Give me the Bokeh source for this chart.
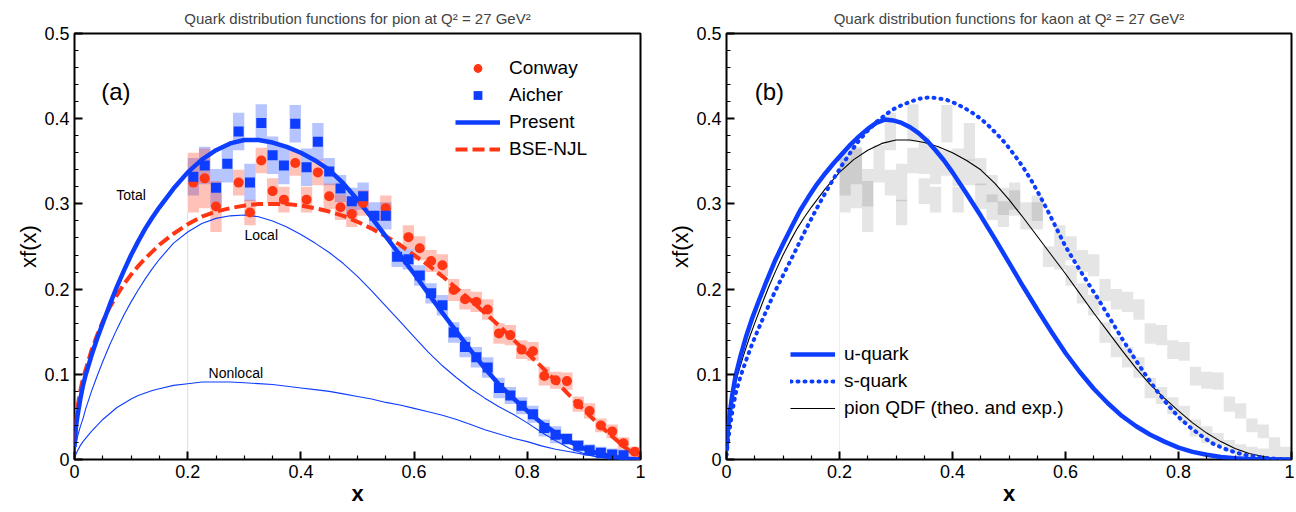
from bokeh.plotting import figure
from bokeh.layouts import row
from bokeh.models import ColumnDataSource, Legend, LegendItem, FixedTicker, Label
from bokeh.embed import file_html
from bokeh.resources import INLINE

FONT = "Liberation Sans"
BLUE = "#0d3dff"
RED = "#ff3514"

# ---------------- data ----------------
titles = ["Quark distribution functions for pion at Q\u00b2 = 27 GeV\u00b2",
          "Quark distribution functions for kaon at Q\u00b2 = 27 GeV\u00b2"]
x_ticks = [0, 0.2, 0.4, 0.6, 0.8, 1.0]
x_tick_labels = ["0", "0.2", "0.4", "0.6", "0.8", "1"]
x_minor = [0.05, 0.1, 0.15, 0.25, 0.3, 0.35, 0.45, 0.5, 0.55, 0.65, 0.7, 0.75, 0.85, 0.9, 0.95]
y_ticks = [0, 0.1, 0.2, 0.3, 0.4, 0.5]
y_tick_labels = ["0", "0.1", "0.2", "0.3", "0.4", "0.5"]
y_minor = [0.02, 0.04, 0.06, 0.08, 0.12, 0.14, 0.16, 0.18, 0.22, 0.24, 0.26, 0.28,
           0.32, 0.34, 0.36, 0.38, 0.42, 0.44, 0.46, 0.48]

# Conway (pion data)
conway_x = [0.21, 0.23, 0.25, 0.29, 0.31, 0.33, 0.35, 0.37, 0.39, 0.41, 0.43, 0.45, 0.47, 0.49,
            0.51, 0.55, 0.59, 0.61, 0.63, 0.65, 0.67, 0.69, 0.71, 0.73, 0.75, 0.77, 0.79, 0.81,
            0.83, 0.85, 0.87, 0.89, 0.91, 0.93, 0.95, 0.97, 0.99]
conway_y = [0.325, 0.330, 0.297, 0.325, 0.290, 0.351, 0.315, 0.305, 0.348, 0.305, 0.337, 0.309,
            0.296, 0.288, 0.301, 0.295, 0.261, 0.248, 0.233, 0.228, 0.199, 0.188, 0.185, 0.176,
            0.148, 0.146, 0.129, 0.127, 0.098, 0.093, 0.092, 0.065, 0.057, 0.040, 0.033, 0.019,
            0.009]
conway_err = [0.035, 0.035, 0.03, 0.015, 0.015, 0.015, 0.015, 0.015, 0.015, 0.015, 0.015, 0.015,
              0.015, 0.015, 0.015, 0.015, 0.014, 0.014, 0.013, 0.013, 0.013, 0.012, 0.012, 0.012,
              0.012, 0.012, 0.011, 0.011, 0.011, 0.010, 0.010, 0.009, 0.009, 0.008, 0.008, 0.007,
              0.006]

# Aicher (pion data)
aicher_x = [0.21, 0.23, 0.25, 0.27, 0.29, 0.31, 0.33, 0.35, 0.37, 0.39, 0.41, 0.43, 0.45, 0.47,
            0.49, 0.51, 0.53, 0.55, 0.57, 0.59, 0.61, 0.63, 0.65, 0.67, 0.69, 0.71, 0.73, 0.75,
            0.77, 0.79, 0.81, 0.83, 0.85, 0.87, 0.89, 0.91, 0.93, 0.95, 0.97]
aicher_y = [0.332, 0.345, 0.319, 0.347, 0.385, 0.325, 0.395, 0.357, 0.345, 0.394, 0.343, 0.373,
            0.338, 0.318, 0.303, 0.309, 0.286, 0.286, 0.238, 0.235, 0.216, 0.195, 0.181, 0.149,
            0.132, 0.120, 0.108, 0.084, 0.075, 0.063, 0.053, 0.037, 0.029, 0.024, 0.016, 0.011,
            0.008, 0.006, 0.005]
aicher_err = [0.022] * 12 + [0.016] * 6 + [0.012] * 10 + [0.010] * 5 + [0.007] * 6

# common x grid (read positions) for the pion curves of panel (a)
grid_x = [0, 0.0025, 0.005, 0.01, 0.015, 0.02, 0.03, 0.04, 0.05, 0.0625, 0.075, 0.0875, 0.1,
          0.1125, 0.125, 0.1375, 0.15, 0.175, 0.2, 0.225, 0.25, 0.275, 0.3, 0.325, 0.35, 0.375,
          0.4, 0.425, 0.45, 0.475, 0.5, 0.525, 0.55, 0.575, 0.6, 0.625, 0.65, 0.675, 0.7, 0.725,
          0.75, 0.775, 0.8, 0.825, 0.85, 0.875, 0.9, 0.925, 0.95, 0.975, 1.0]
# Present (total) -- also the pion QDF of panel (b)
present_y = [0.015, 0.038, 0.05, 0.07, 0.087, 0.10, 0.122, 0.142, 0.16, 0.182, 0.203, 0.222,
             0.24, 0.256, 0.271, 0.284, 0.296, 0.318, 0.337, 0.352, 0.363, 0.371, 0.375, 0.375,
             0.372, 0.367, 0.36, 0.351, 0.34, 0.324, 0.305, 0.284, 0.262, 0.240, 0.218, 0.195,
             0.172, 0.150, 0.128, 0.107, 0.088, 0.072, 0.057, 0.043, 0.031, 0.021, 0.013, 0.007,
             0.0035, 0.001, 0.0]
# BSE-NJL
bse_y = [0.02, 0.045, 0.06, 0.08, 0.095, 0.106, 0.128, 0.146, 0.162, 0.179, 0.193, 0.206, 0.217,
         0.227, 0.236, 0.244, 0.252, 0.265, 0.276, 0.285, 0.291, 0.295, 0.298, 0.3, 0.3, 0.3,
         0.298, 0.295, 0.291, 0.286, 0.279, 0.271, 0.262, 0.252, 0.240, 0.228, 0.215, 0.201,
         0.187, 0.172, 0.157, 0.141, 0.125, 0.109, 0.092, 0.075, 0.058, 0.042, 0.027, 0.013, 0.0]
# Local
local_y = [0.0, 0.018, 0.026, 0.038, 0.048, 0.06, 0.08, 0.098, 0.115, 0.135, 0.153, 0.17, 0.185,
           0.199, 0.212, 0.224, 0.235, 0.254, 0.267, 0.277, 0.283, 0.286, 0.287, 0.285, 0.28,
           0.273, 0.264, 0.254, 0.243, 0.23, 0.215, 0.198, 0.18, 0.162, 0.144, 0.126, 0.11, 0.096,
           0.083, 0.072, 0.062, 0.053, 0.043, 0.032, 0.022, 0.013, 0.007, 0.003, 0.001, 0.0, 0.0]
# Nonlocal
nonlocal_y = [0.0, 0.006, 0.01, 0.016, 0.021, 0.025, 0.033, 0.04, 0.047, 0.054, 0.061, 0.066,
              0.071, 0.075, 0.078, 0.081, 0.083, 0.087, 0.089, 0.091, 0.091, 0.091, 0.09, 0.089,
              0.088, 0.086, 0.084, 0.082, 0.08, 0.077, 0.074, 0.071, 0.067, 0.064, 0.06, 0.056,
              0.052, 0.047, 0.041, 0.035, 0.030, 0.025, 0.021, 0.016, 0.012, 0.009, 0.006, 0.003,
              0.0015, 0.0005, 0.0]

# kaon u-quark
u_x = [0, 0.0025, 0.005, 0.01, 0.016, 0.025, 0.035, 0.045, 0.057, 0.07, 0.085, 0.1, 0.116, 0.13,
       0.145, 0.16, 0.175, 0.19, 0.205, 0.22, 0.234, 0.25, 0.265, 0.28, 0.295, 0.31, 0.325, 0.34,
       0.355, 0.37, 0.385, 0.4, 0.425, 0.45, 0.475, 0.5, 0.525, 0.55, 0.575, 0.6, 0.625, 0.65,
       0.675, 0.7, 0.725, 0.75, 0.775, 0.8, 0.825, 0.85, 0.875, 0.9, 0.925, 0.95, 1.0]
u_y = [0.01, 0.035, 0.05, 0.075, 0.098, 0.122, 0.145, 0.165, 0.186, 0.208, 0.232, 0.253, 0.274,
       0.292, 0.308, 0.323, 0.336, 0.348, 0.359, 0.370, 0.379, 0.388, 0.395, 0.399, 0.398, 0.395,
       0.390, 0.383, 0.374, 0.363, 0.351, 0.337, 0.312, 0.286, 0.259, 0.231, 0.203, 0.176, 0.150,
       0.125, 0.103, 0.083, 0.066, 0.051, 0.039, 0.029, 0.021, 0.014, 0.009, 0.0055, 0.003,
       0.0015, 0.0007, 0.0003, 0.0]
# kaon s-quark
s_x = [0, 0.0025, 0.005, 0.01, 0.016, 0.025, 0.035, 0.045, 0.057, 0.07, 0.085, 0.1, 0.116, 0.13,
       0.145, 0.16, 0.175, 0.19, 0.205, 0.22, 0.234, 0.25, 0.265, 0.28, 0.295, 0.31, 0.33, 0.345,
       0.36, 0.375, 0.39, 0.405, 0.42, 0.435, 0.45, 0.465, 0.48, 0.495, 0.51, 0.525, 0.54, 0.555,
       0.57, 0.585, 0.6, 0.62, 0.64, 0.66, 0.68, 0.7, 0.72, 0.74, 0.76, 0.78, 0.8, 0.82, 0.84,
       0.86, 0.88, 0.9, 0.92, 0.94, 0.96, 0.98, 1.0]
s_y = [0.005, 0.02, 0.033, 0.055, 0.077, 0.098, 0.117, 0.135, 0.154, 0.174, 0.196, 0.216, 0.237,
       0.256, 0.276, 0.295, 0.313, 0.330, 0.346, 0.361, 0.374, 0.386, 0.396, 0.404, 0.411,
       0.416, 0.421, 0.424, 0.425, 0.424, 0.422, 0.418, 0.413, 0.407, 0.400, 0.391, 0.381,
       0.370, 0.357, 0.343, 0.327, 0.309, 0.290, 0.270, 0.250, 0.228, 0.207, 0.186, 0.164,
       0.142, 0.121, 0.101, 0.082, 0.065, 0.05, 0.038, 0.028, 0.019, 0.013, 0.0085, 0.005,
       0.003, 0.0015, 0.0005, 0.0]

guide_x = [0.2]
guide_top = [0.29]

# ---------------- layout constants ----------------
FW1, FW2, FH = 566, 565, 426
BOX_W = 0.02


def base_fig(title, fw, bl, br):
    p = figure(width=None, height=None, frame_width=fw, frame_height=FH,
               x_range=(0, 1), y_range=(0, 0.5), output_backend="svg",
               toolbar_location=None, title=title,
               min_border_left=bl, min_border_right=br, min_border_top=0, min_border_bottom=0)
    p.title.text_font = FONT
    p.title.text_font_size = "15px"
    p.title.text_font_style = "normal"
    p.title.align = "center"
    p.title.standoff = 14
    p.grid.visible = False
    p.outline_line_color = "black"
    p.outline_line_width = 2
    p.outline_line_alpha = 1
    xa, ya = p.xaxis[0], p.yaxis[0]
    xa.ticker = FixedTicker(ticks=x_ticks, minor_ticks=x_minor)
    ya.ticker = FixedTicker(ticks=y_ticks, minor_ticks=y_minor)
    xa.major_label_overrides = dict(zip(x_ticks, x_tick_labels))
    ya.major_label_overrides = dict(zip(y_ticks, y_tick_labels))
    xa.axis_label = "x"
    ya.axis_label = "xf(x)"
    for ax in (xa, ya):
        ax.axis_line_color = None
        ax.major_tick_in = 8
        ax.major_tick_out = 0
        ax.minor_tick_in = 4
        ax.minor_tick_out = 0
        ax.major_tick_line_width = 2
        ax.minor_tick_line_width = 1.2
        ax.major_tick_line_color = "black"
        ax.minor_tick_line_color = "black"
        ax.major_label_text_font = FONT
        ax.major_label_text_font_size = "18px"
        ax.major_label_text_color = "black"
        ax.major_label_standoff = 5
        ax.axis_label_text_font = FONT
        ax.axis_label_text_font_size = "22px"
        ax.axis_label_text_color = "black"
        ax.axis_label_standoff = 0
    xa.axis_label_text_font_style = "bold"
    ya.axis_label_text_font_style = "normal"
    return p


# ---------------- panel (a) ----------------
p1 = base_fig(titles[0], FW1, 74, 20)

src_c = ColumnDataSource(dict(x=conway_x, y=conway_y, h=[2 * e for e in conway_err]))
src_a = ColumnDataSource(dict(x=aicher_x, y=aicher_y, h=[2 * e for e in aicher_err]))

p1.segment(x0=guide_x, y0=[0] * len(guide_x), x1=guide_x, y1=guide_top,
           line_color="#dcdcf0", line_width=1)
p1.rect(x="x", y="y", width=BOX_W, height="h", source=src_a,
        fill_color=BLUE, fill_alpha=0.3, line_color=None)
p1.rect(x="x", y="y", width=BOX_W, height="h", source=src_c,
        fill_color=RED, fill_alpha=0.3, line_color=None)

p1.line(grid_x, local_y, line_color=BLUE, line_width=1.1)
p1.line(grid_x, nonlocal_y, line_color=BLUE, line_width=1.1)
r_bse = p1.line(grid_x, bse_y, line_color=RED, line_width=4, line_dash="12 5")
r_pres = p1.line(grid_x, present_y, line_color=BLUE, line_width=4.5)
r_con = p1.scatter(x="x", y="y", source=src_c, marker="circle", size=10,
                   fill_color=RED, line_color=None)
r_aic = p1.scatter(x="x", y="y", source=src_a, marker="square", size=10,
                   fill_color=BLUE, line_color=None)

leg1_h = 4 * 22 + 3 * 5
leg1 = Legend(items=[LegendItem(label="Conway", renderers=[r_con]),
                     LegendItem(label="Aicher", renderers=[r_aic]),
                     LegendItem(label="Present", renderers=[r_pres]),
                     LegendItem(label="BSE-NJL", renderers=[r_bse])],
              location=(381, FH - 24 - leg1_h))
p1.add_layout(leg1)

labels1 = [("(a)", 0.073, 0.432, "24px"), ("Total", 0.10, 0.31, "14px"),
           ("Local", 0.33, 0.264, "14px"), ("Nonlocal", 0.285, 0.101, "14px")]
for txt, lx, ly, fs in labels1:
    p1.add_layout(Label(x=lx, y=ly, text=txt, text_font=FONT, text_font_size=fs,
                        text_align="center", text_baseline="middle", text_color="black"))

# ---------------- panel (b) ----------------
p2 = base_fig(titles[1], FW2, 66, 3)
p2.segment(x0=guide_x, y0=[0] * len(guide_x), x1=guide_x, y1=guide_top,
           line_color="#eeeeee", line_width=1)
p2.rect(x="x", y="y", width=BOX_W, height="h", source=src_a,
        fill_color="black", fill_alpha=0.1, line_color=None)
p2.rect(x="x", y="y", width=BOX_W, height="h", source=src_c,
        fill_color="black", fill_alpha=0.1, line_color=None)
r_pion = p2.line(grid_x, present_y, line_color="black", line_width=1.1)
r_s = p2.line(s_x, s_y, line_color=BLUE, line_width=4, line_dash="1 6", line_cap="round")
r_u = p2.line(u_x, u_y, line_color=BLUE, line_width=4.5)

leg2_h = 3 * 22 + 2 * 5
leg2 = Legend(items=[LegendItem(label="u-quark", renderers=[r_u]),
                     LegendItem(label="s-quark", renderers=[r_s]),
                     LegendItem(label="pion QDF (theo. and exp.)", renderers=[r_pion])],
              location=(64, 40))
p2.add_layout(leg2)
p2.add_layout(Label(x=0.076, y=0.432, text="(b)", text_font=FONT, text_font_size="24px",
                    text_align="center", text_baseline="middle", text_color="black"))

for lg in (leg1, leg2):
    lg.border_line_color = None
    lg.background_fill_alpha = 0
    lg.padding = 0
    lg.margin = 0
    lg.spacing = 5
    lg.glyph_width = 45
    lg.glyph_height = 22
    lg.label_height = 22
    lg.label_standoff = 9
    lg.label_text_font = FONT
    lg.label_text_font_size = "19px"
    lg.label_text_color = "black"

layout = row(p1, p2)
open("out.html", "w").write(file_html(layout, INLINE))
